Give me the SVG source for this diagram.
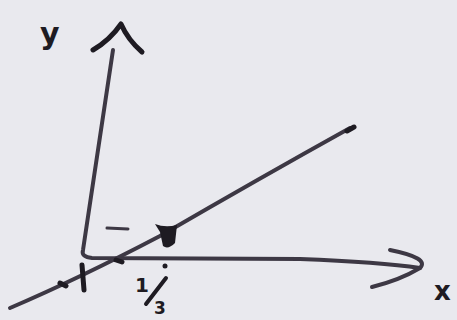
<svg xmlns="http://www.w3.org/2000/svg" width="457" height="320" viewBox="0 0 457 320">
<style>
.s{fill:none;stroke:#3d3844;stroke-width:4;stroke-linecap:round;stroke-linejoin:round}
.k{fill:none;stroke:#1e1b22;stroke-width:5;stroke-linecap:round;stroke-linejoin:round}
.t{font-family:"DejaVu Sans",sans-serif;fill:#1e1b22;font-weight:bold}
</style>
<rect width="457" height="320" fill="#e9e9ee"/>
<g id="axes">
<path class="s" d="M113,50 L83,250 Q81,257 92,258 L300,259 Q380,262 420,268"/>
<path class="k" d="M93,50 Q110,40 121,24 Q128,40 142,52"/>
<path class="s" d="M390,250 Q430,258 420,268 Q400,280 372,287"/>
</g>
<g id="line">
<path class="s" d="M10,308 Q80,278 160,236 Q260,178 350,128"/>
<path class="k" d="M347,131 L354,127"/>
</g>
<g id="marks">
<path class="k" d="M82,265 L84,290"/>
<path class="k" d="M60,283 L66,286"/>
<path class="k" d="M116,260 L122,262"/>
<path class="s" d="M107,228 L128,229" style="stroke-width:3"/>
<path d="M155,224 Q165,228 177,225 L175,243 Q168,250 163,246 L160,232 Z" fill="#1e1b22"/>
</g>
<g id="labels">
<text class="t" x="40" y="44" font-size="30">y</text>
<text class="t" x="434" y="300" font-size="26">x</text>
<text class="t" x="135" y="292" font-size="20">1</text>
<path class="k" d="M146,304 L166,278" style="stroke-width:4"/>
<circle cx="165" cy="266" r="2.5" fill="#1e1b22"/>
<text class="t" x="154" y="314" font-size="17">3</text>
</g>
</svg>
